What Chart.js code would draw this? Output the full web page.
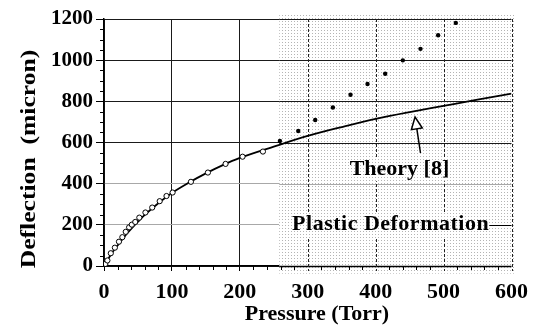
<!DOCTYPE html>
<html>
<head>
<meta charset="utf-8">
<title>Deflection vs Pressure</title>
<script src="https://cdn.jsdelivr.net/npm/chart.js@4.4.1/dist/chart.umd.min.js"></script>
<style>
  html, body { margin: 0; padding: 0; background: #fff; }
  #wrap { width: 536px; height: 333px; position: relative; }
</style>
</head>
<body>
<div id="wrap"><canvas id="chart"></canvas></div>
<script>
// Axis ticks
const xTickValues = [0, 100, 200, 300, 400, 500, 600];
const yTickValues = [0, 200, 400, 600, 800, 1000, 1200];

// Measured deflection, elastic range (open circles)
const elasticP = [2, 5, 10, 16, 22, 27, 32, 37, 41, 46, 52, 61, 71, 82, 92, 101, 128, 153, 179, 204, 234];
const elasticD = [10, 27, 62, 89, 118, 140, 166, 188, 201, 214, 235, 260, 284, 315, 340, 357, 409, 454, 496, 531, 556];

// Measured deflection, plastic range (filled dots)
const plasticP = [259, 286, 311, 337, 363, 388, 414, 440, 466, 492, 518];
const plasticD = [607, 656, 709, 770, 832, 884, 934, 999, 1055, 1121, 1181];

// Theory [8] curve
const theoryP = [0, 5, 10, 20, 30, 40, 50, 60, 80, 100, 125, 150, 175, 200, 250, 300, 350, 400, 450, 500, 550, 600];
const theoryD = [0, 28, 55, 100, 143, 180, 215, 248, 305, 355, 405, 450, 490, 525, 580, 632, 675, 715, 748, 778, 808, 837];

const serif = "'Liberation Serif', 'Times New Roman', serif";

// shaded plastic-deformation band (axis units)
const bandP = [258, 606];
const bandD = [-37, 1228];

const toPoints = (xs, ys) => xs.map((v, i) => ({ x: v, y: ys[i] }));

const gridColor = c => (c.tick && (c.tick.value === 200 || c.tick.value === 400)) ? '#a8a8a8' : '#1a1a1a';

function dotPattern(ctx) {
    const c = document.createElement('canvas');
    c.width = 3;
    c.height = 3;
    const g = c.getContext('2d');
    g.fillStyle = '#b4b4b4';
    g.fillRect(0, 0, 1, 1);
    return ctx.createPattern(c, 'repeat');
}

function fillBand(ctx, l, t, w, h) {
    ctx.fillStyle = '#fff';
    ctx.fillRect(l, t, w, h);
    ctx.fillStyle = dotPattern(ctx);
    ctx.fillRect(l, t, w, h);
}

// Dotted band with its own (dashed) grid, plus the two labels sitting on it
const plasticBand = {
    id: 'plasticBand',
    beforeDatasetsDraw(chart) {
        const { ctx, chartArea: a, scales: { x, y } } = chart;
        const l = x.getPixelForValue(bandP[0]), r = x.getPixelForValue(bandP[1]);
        const t = y.getPixelForValue(bandD[1]), b = y.getPixelForValue(bandD[0]);
        ctx.save();
        fillBand(ctx, l, t, r - l, b - t);

        yTickValues.forEach(v => {
            const py = Math.round(y.getPixelForValue(v)) + 0.5;
            ctx.strokeStyle = (v === 0 || v === 200) ? '#000' : gridColor({ tick: { value: v } });
            ctx.lineWidth = v === 0 ? 1.5 : 1;
            ctx.beginPath();
            ctx.moveTo(l, py);
            ctx.lineTo(a.right, py);
            ctx.stroke();
        });
        ctx.lineWidth = 1;
        ctx.strokeStyle = '#222';
        ctx.setLineDash([3, 2]);
        xTickValues.forEach(v => {
            const px = Math.round(x.getPixelForValue(v)) + 0.5;
            if (px < l) return;
            ctx.beginPath();
            ctx.moveTo(px, a.top);
            ctx.lineTo(px, a.bottom + 5);
            ctx.stroke();
        });
        ctx.setLineDash([]);

        ctx.font = `bold 22px ${serif}`;
        ctx.textBaseline = 'alphabetic';
        ctx.textAlign = 'center';

        // "Theory [8]"
        const tx = x.getPixelForValue(435), ty = y.getPixelForValue(441);
        const tw = ctx.measureText('Theory [8]').width;
        fillBand(ctx, tx - tw / 2 - 2, ty - 18, tw + 4, 24);
        ctx.fillStyle = '#000';
        ctx.fillText('Theory [8]', tx, ty);

        // "Plastic Deformation"
        ctx.letterSpacing = '0.5px';
        const px = x.getPixelForValue(422), py = y.getPixelForValue(173);
        const pw = ctx.measureText('Plastic Deformation').width;
        fillBand(ctx, l, py - 18, px + pw / 2 - l, 26);
        ctx.fillStyle = '#000';
        ctx.fillText('Plastic Deformation', px, py);
        ctx.restore();
    }
};

// Minor ticks, arrow and axis titles
const decorations = {
    id: 'decorations',
    afterDatasetsDraw(chart) {
        const { ctx, scales: { x, y } } = chart;
        // open arrow pointing at the theory curve
        const x0 = x.getPixelForValue(466), y0 = y.getPixelForValue(549);
        const x1 = x.getPixelForValue(458), y1 = y.getPixelForValue(724);
        const ang = Math.atan2(y1 - y0, x1 - x0);
        const len = 12, half = 5.5;
        const bx = x1 - len * Math.cos(ang), by = y1 - len * Math.sin(ang);
        ctx.save();
        ctx.strokeStyle = '#000';
        ctx.lineWidth = 1.5;
        ctx.beginPath();
        ctx.moveTo(x0, y0);
        ctx.lineTo(bx, by);
        ctx.stroke();
        ctx.beginPath();
        ctx.moveTo(x1, y1);
        ctx.lineTo(bx + half * Math.sin(ang), by - half * Math.cos(ang));
        ctx.lineTo(bx - half * Math.sin(ang), by + half * Math.cos(ang));
        ctx.closePath();
        ctx.fillStyle = '#fff';
        ctx.fill();
        ctx.stroke();
        ctx.restore();
    },
    afterDraw(chart) {
        const { ctx, chartArea: a, scales: { x, y } } = chart;
        ctx.save();
        ctx.strokeStyle = '#000';
        ctx.lineWidth = 1;
        for (let v = 50; v < 1200; v += 50) {
            if (v % 200 === 0) continue;
            const py = Math.round(y.getPixelForValue(v)) + 0.5;
            ctx.beginPath();
            ctx.moveTo(a.left - 4, py);
            ctx.lineTo(a.left, py);
            ctx.stroke();
        }
        for (let v = 20; v < 600; v += 20) {
            if (v % 100 === 0) continue;
            const px = Math.round(x.getPixelForValue(v)) + 0.5;
            ctx.beginPath();
            ctx.moveTo(px, a.bottom);
            ctx.lineTo(px, a.bottom + 4);
            ctx.stroke();
        }

        ctx.fillStyle = '#000';
        ctx.font = `bold 22px ${serif}`;
        ctx.textAlign = 'center';
        ctx.textBaseline = 'alphabetic';
        ctx.fillText('Pressure (Torr)', 317, 320);

        ctx.translate(34.5, 159);
        ctx.rotate(-Math.PI / 2);
        ctx.scale(1.22, 1);
        ctx.font = `bold 21px ${serif}`;
        ctx.fillText('Deflection  (micron)', 0, 0);
        ctx.restore();
    }
};

new Chart(document.getElementById('chart'), {
    type: 'scatter',
    data: {
        datasets: [
            {
                label: 'Elastic',
                data: toPoints(elasticP, elasticD),
                pointRadius: 2.6,
                pointBorderWidth: 1,
                pointBackgroundColor: '#fff',
                pointBorderColor: '#000'
            },
            {
                label: 'Plastic',
                data: toPoints(plasticP, plasticD),
                pointRadius: 2.2,
                pointBorderWidth: 0,
                pointBackgroundColor: '#000',
                pointBorderColor: '#000'
            },
            {
                label: 'Theory [8]',
                data: toPoints(theoryP, theoryD),
                showLine: true,
                pointRadius: 0,
                borderColor: '#000',
                borderWidth: 1.8,
                cubicInterpolationMode: 'monotone'
            }
        ]
    },
    options: {
        responsive: true,
        maintainAspectRatio: false,
        animation: false,
        layout: { padding: { top: 19, right: 22, left: 0, bottom: 0 } },
        plugins: {
            legend: { display: false },
            tooltip: { enabled: false }
        },
        scales: {
            x: {
                type: 'linear',
                min: 0,
                max: 600,
                afterBuildTicks: s => { s.ticks = xTickValues.map(v => ({ value: v })); },
                afterFit: s => { s.height = 67; },
                border: { color: '#000', width: 1.5 },
                grid: { color: '#1a1a1a', tickLength: 5, tickColor: '#000' },
                ticks: {
                    color: '#000',
                    padding: 8,
                    maxRotation: 0,
                    callback: v => String(v),
                    font: { family: serif, size: 22, weight: 'bold' }
                }
            },
            y: {
                type: 'linear',
                min: 0,
                max: 1200,
                afterBuildTicks: s => { s.ticks = yTickValues.map(v => ({ value: v })); },
                afterFit: s => { s.width = 104; },
                border: { color: '#000', width: 1.5 },
                grid: { color: gridColor, tickLength: 8, tickColor: '#000' },
                ticks: {
                    color: '#000',
                    padding: 3,
                    callback: v => String(v),
                    font: { family: serif, size: 21, weight: 'bold' }
                }
            }
        }
    },
    plugins: [plasticBand, decorations]
});
</script>
</body>
</html>
